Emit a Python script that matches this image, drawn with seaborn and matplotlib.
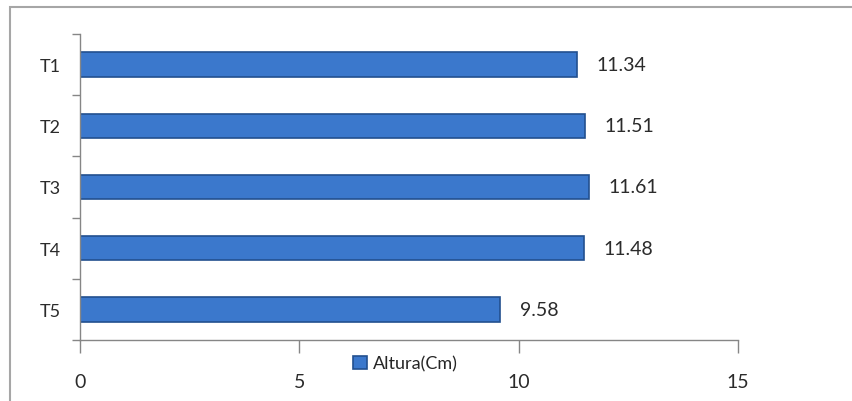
import pandas as pd
import seaborn as sns
import matplotlib.pyplot as plt
from matplotlib.patches import Rectangle
from matplotlib.ticker import FixedLocator

tratamientos = ['T1', 'T2', 'T3', 'T4', 'T5']
altura = [11.34, 11.51, 11.61, 11.48, 9.58]
xticks = [0, 5, 10, 15]

df = pd.DataFrame({'Tratamiento': tratamientos, 'Altura(Cm)': altura})

sns.set_style('white')
plt.rcParams['font.family'] = ['Lato', 'DejaVu Sans']

fig = plt.figure(figsize=(8.53, 4.02), dpi=100)
fig.patches.append(Rectangle((10 / 853, -0.05), 1.0, 1 - 8 / 402 + 0.05,
                             transform=fig.transFigure, fill=False,
                             edgecolor='#a6a6a6', linewidth=1.5))
ax = fig.add_axes([80 / 853, 1 - 341 / 402, (738 - 80) / 853, (341 - 35) / 402])

sns.barplot(data=df, y='Tratamiento', x='Altura(Cm)', color='#3b78cc',
            saturation=1, width=0.4, edgecolor='#22508f', linewidth=1.2,
            ax=ax, label='Altura(Cm)')

for c in ax.containers:
    ax.bar_label(c, labels=[f'{v:.2f}' for v in altura], padding=14,
                 fontsize=14, color='#2b2b2b')

ax.set_xlim(0, 15)
ax.set_ylim(4.5, -0.5)
ax.set_xticks(xticks)
ax.set_xlabel('')
ax.set_ylabel('')
ax.yaxis.set_minor_locator(FixedLocator([-0.5, 0.5, 1.5, 2.5, 3.5, 4.5]))
ax.tick_params(axis='y', which='major', length=0, pad=14, labelsize=13,
               labelcolor='#2b2b2b')
ax.tick_params(axis='y', which='minor', length=6, color='#868686', width=1,
               direction='out', left=True)
ax.tick_params(axis='x', length=9, color='#868686', width=1, direction='out',
               pad=15, labelsize=14, labelcolor='#2b2b2b', bottom=True)
for s in ['top', 'right']:
    ax.spines[s].set_visible(False)
for s in ['left', 'bottom']:
    ax.spines[s].set_color('#868686')
    ax.spines[s].set_linewidth(1)

ax.legend(loc='center', bbox_to_anchor=(0.475, 0.093),
          bbox_transform=fig.transFigure, frameon=False, fontsize=13,
          handlelength=0.8, handleheight=0.8, handletextpad=0.3)

plt.savefig('out.png', dpi=100)
